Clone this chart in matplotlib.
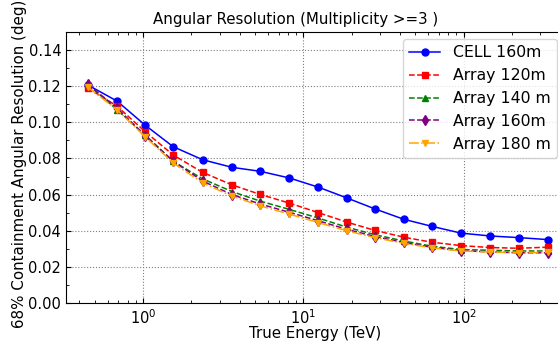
import numpy as np
import matplotlib
matplotlib.use("Agg")
import matplotlib.pyplot as plt

# True energy bin centres (TeV)
energy = [0.451, 0.686, 1.03, 1.54, 2.35, 3.58, 5.37, 8.17, 12.4, 18.6,
          27.9, 42.4, 63.6, 95.9, 146, 220, 334]

cell_160 = [0.1207, 0.1118, 0.0984, 0.0865, 0.0793, 0.0751, 0.0729, 0.0692, 0.0641,
            0.0582, 0.0521, 0.0463, 0.0424, 0.0387, 0.0371, 0.0362, 0.0351]
array_120 = [0.1190, 0.1090, 0.0948, 0.0819, 0.0723, 0.0654, 0.0601, 0.0553, 0.0500,
             0.0448, 0.0402, 0.0364, 0.0336, 0.0318, 0.0307, 0.0303, 0.0309]
array_140 = [0.1210, 0.1070, 0.0930, 0.0784, 0.0687, 0.0617, 0.0564, 0.0518, 0.0470,
             0.0420, 0.0378, 0.0343, 0.0314, 0.0296, 0.0292, 0.0288, 0.0288]
array_160 = [0.1210, 0.1080, 0.0925, 0.0785, 0.0675, 0.0600, 0.0548, 0.0502, 0.0455,
             0.0408, 0.0368, 0.0335, 0.0308, 0.0290, 0.0283, 0.0278, 0.0278]
array_180 = [0.1195, 0.1070, 0.0920, 0.0775, 0.0665, 0.0592, 0.0538, 0.0492, 0.0445,
             0.0400, 0.0362, 0.0330, 0.0305, 0.0288, 0.0282, 0.0278, 0.0280]

fig = plt.figure(figsize=(5.58, 3.41), dpi=100)
ax = fig.add_axes([66 / 558, 38 / 341, 1 - 66 / 558 + 0.01, (303 - 32) / 341])

ax.plot(energy, cell_160, color="blue", ls="-", marker="o", ms=5, lw=1.1, label="CELL 160m")
ax.plot(energy, array_120, color="red", ls="--", marker="s", ms=5, lw=1.1, label="Array 120m")
ax.plot(energy, array_140, color="green", ls="--", marker="^", ms=5, lw=1.1, label="Array 140 m")
ax.plot(energy, array_160, color="purple", ls="--", marker="d", ms=5, lw=1.1, label="Array 160m")
ax.plot(energy, array_180, color="orange", ls="-.", marker="v", ms=5, lw=1.1, label="Array 180 m")

ax.set_xscale("log")
ax.set_xlim(0.33, 420)
ax.set_ylim(0, 0.15)
ax.set_yticks(np.arange(0, 0.141, 0.02))
ax.set_yticks(np.arange(0, 0.15, 0.01), minor=True)
ax.tick_params(which="both", direction="in", top=True, right=True, labelsize=10.5)
ax.grid(True, which="major", ls=":", color="gray", lw=0.8)

ax.set_title("Angular Resolution (Multiplicity >=3 )", fontsize=10.8, pad=6, x=0.462)
ax.set_xlabel("True Energy (TeV)", fontsize=10.8, labelpad=-0.5)
ax.set_ylabel("68% Containment Angular Resolution (deg)", fontsize=10.9)
ax.yaxis.set_label_coords(-0.078, 0.515)
ax.legend(loc="upper right", fontsize=11.3, handlelength=2.0, borderaxespad=0,
          bbox_to_anchor=(0.987, 0.974))

fig.savefig("out.png", dpi=100)
